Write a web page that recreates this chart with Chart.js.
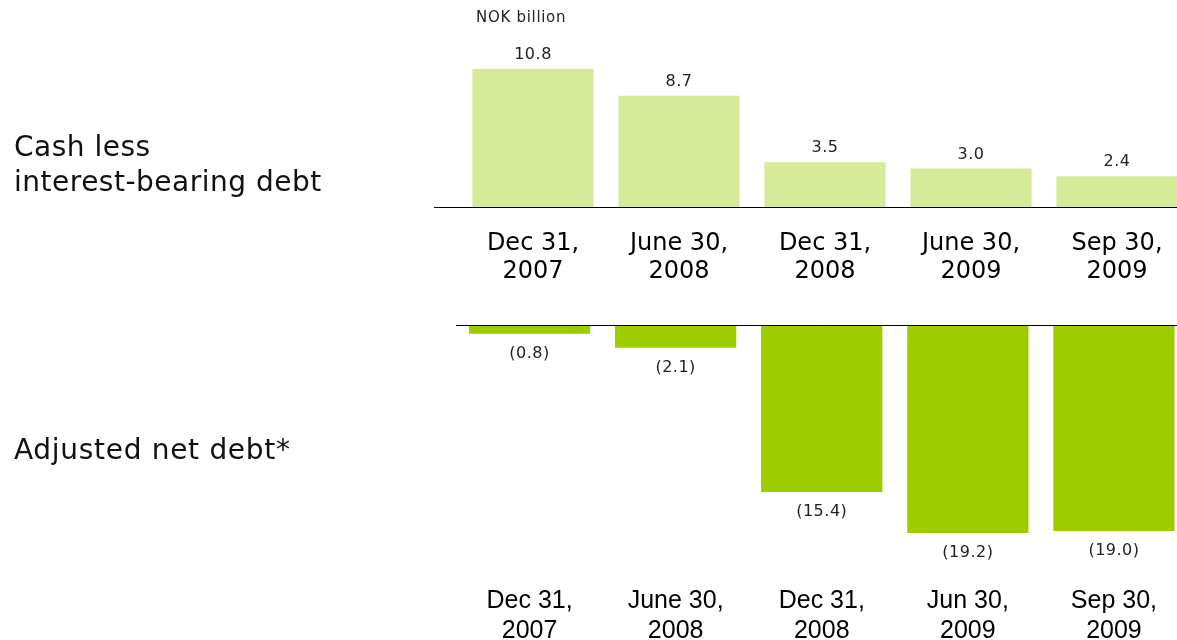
<!DOCTYPE html>
<html>
<head>
<meta charset="utf-8">
<script src="https://cdn.jsdelivr.net/npm/chart.js@4"></script>
<style>
  html, body { margin: 0; padding: 0; background: #fff; overflow: hidden; width: 1177px; height: 640px; }
  canvas { position: absolute; left: 0; }
  #topCanvas { top: 0; }
  #bottomCanvas { top: 300px; }
  .side { position: absolute; left: 14px; font-family: "DejaVu Sans", Verdana, sans-serif; font-size: 28px; line-height: 35px; color: #111; letter-spacing: 0.5px; }
  .unit { position: absolute; left: 476px; top: 8px; font-family: "DejaVu Sans", Verdana, sans-serif; font-size: 15px; color: #222; letter-spacing: 0.7px; }
</style>
</head>
<body>
<canvas id="topCanvas" width="1190" height="300"></canvas>
<canvas id="bottomCanvas" width="1187" height="340"></canvas>
<div class="side" style="top:129px">Cash less<br>interest-bearing debt</div>
<div class="side" style="top:432px; letter-spacing:0.7px">Adjusted net debt*</div>
<div class="unit">NOK billion</div>
<script>
const cashLabels = [['Dec 31,', '2007'], ['June 30,', '2008'], ['Dec 31,', '2008'], ['June 30,', '2009'], ['Sep 30,', '2009']];
const cashValues = [10.8, 8.7, 3.5, 3.0, 2.4];

const debtLabels = [['Dec 31,', '2007'], ['June 30,', '2008'], ['Dec 31,', '2008'], ['Jun 30,', '2009'], ['Sep 30,', '2009']];
const debtValues = [-0.8, -2.1, -15.4, -19.2, -19.0];

// value labels above / below each bar
const valueLabels = {
    id: 'valueLabels',
    afterDatasetsDraw(chart, args, opts) {
        const ctx = chart.ctx;
        const meta = chart.getDatasetMeta(0);
        const data = chart.data.datasets[0].data;
        ctx.save();
        ctx.font = opts.font;
        ctx.letterSpacing = '0.5px';
        ctx.fillStyle = '#222';
        ctx.textAlign = 'center';
        ctx.textBaseline = 'middle';
        meta.data.forEach((bar, i) => {
            const v = data[i];
            const txt = v < 0 ? '(' + Math.abs(v).toFixed(1) + ')' : v.toFixed(1);
            const y = v < 0 ? bar.y + opts.offset : bar.y - opts.offset;
            ctx.fillText(txt, bar.x, y);
        });
        ctx.restore();
    }
};

// horizontal baseline that runs past the bars on the left
const baseLine = {
    id: 'baseLine',
    afterDatasetsDraw(chart, args, opts) {
        const ctx = chart.ctx;
        const y = Math.round(chart.scales.y.getPixelForValue(0)) + 0.5;
        ctx.save();
        ctx.strokeStyle = '#000';
        ctx.lineWidth = 1;
        ctx.beginPath();
        ctx.moveTo(opts.from, y);
        ctx.lineTo(chart.width, y);
        ctx.stroke();
        ctx.restore();
    }
};

function makeChart(canvasId, labels, values, color, cfg) {
    const ctx = document.getElementById(canvasId).getContext('2d');
    return new Chart(ctx, {
        type: 'bar',
        data: {
            labels: labels,
            datasets: [{
                data: values,
                backgroundColor: color,
                borderWidth: 0,
                barPercentage: 0.83,
                categoryPercentage: 1
            }]
        },
        options: {
            responsive: false,
            animation: false,
            layout: { padding: { left: cfg.left, top: cfg.top, right: 0, bottom: 0 } },
            plugins: {
                legend: { display: false },
                tooltip: { enabled: false },
                valueLabels: { font: '16px "DejaVu Sans", Verdana, sans-serif', offset: cfg.labelOffset },
                baseLine: { from: cfg.lineFrom }
            },
            scales: {
                x: {
                    grid: { display: false, drawTicks: false },
                    border: { display: false },
                    ticks: { color: '#000', font: cfg.tickFont, padding: cfg.tickPad, maxRotation: 0, autoSkip: false },
                    afterFit: s => { s.height = cfg.axisHeight; }
                },
                y: { display: false, min: cfg.min, max: cfg.max }
            }
        },
        plugins: [valueLabels, baseLine]
    });
}

makeChart('topCanvas', cashLabels, cashValues, '#d6ea9a', {
    left: 460, top: 15, min: 0, max: 15, axisHeight: 93, tickPad: 22,
    tickFont: { family: '"DejaVu Sans", Verdana, sans-serif', size: 24, lineHeight: 1.2 },
    labelOffset: 14, lineFrom: 434
});

makeChart('bottomCanvas', debtLabels, debtValues, '#9dcc00', {
    left: 456.5, top: 25, min: -21.5, max: 0, axisHeight: 82, tickPad: 28,
    tickFont: { family: '"Liberation Sans", Arial, sans-serif', size: 25, lineHeight: 1.2 },
    labelOffset: 20, lineFrom: 456
});
</script>
</body>
</html>
